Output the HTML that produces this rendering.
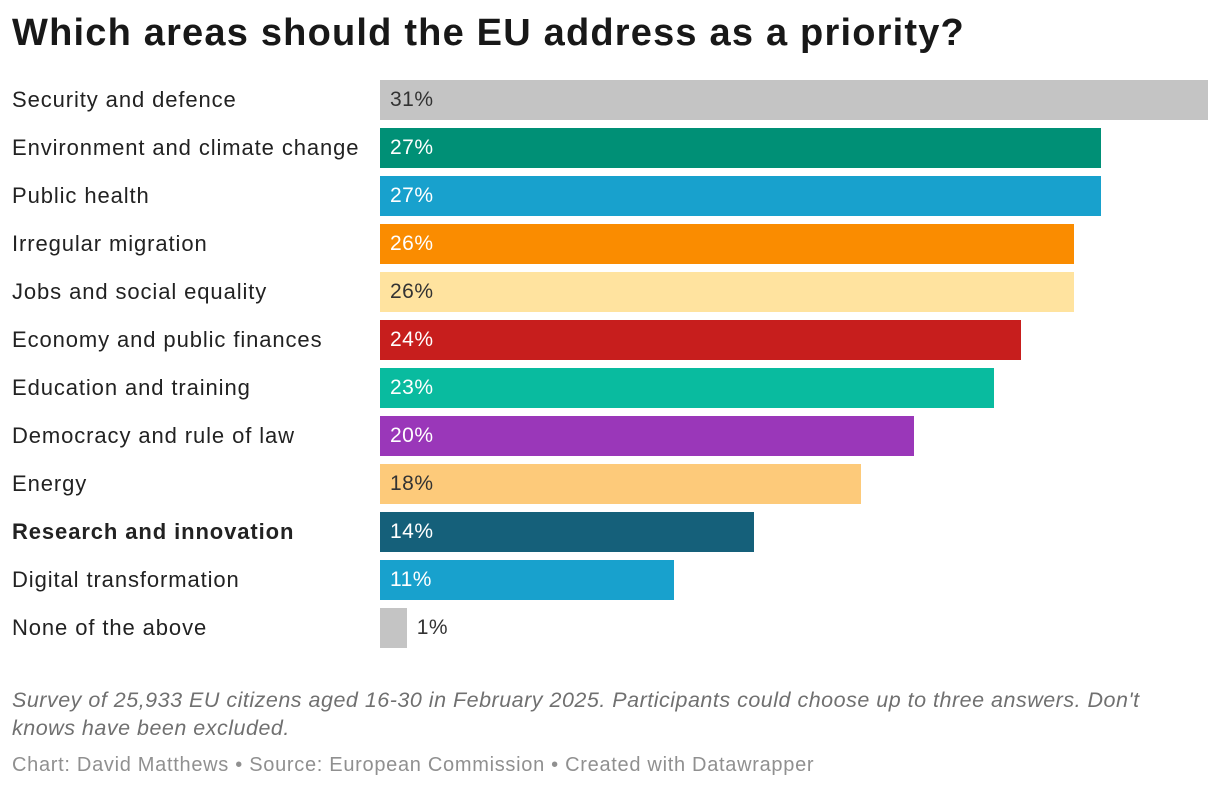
<!DOCTYPE html>
<html><head><meta charset="utf-8"><style>
body{margin:0;width:1220px;height:790px;background:#fff;font-family:"Liberation Sans",Arial,sans-serif;position:relative;overflow:hidden}
h1{position:absolute;left:12px;top:12px;margin:0;font-size:38px;font-weight:bold;color:#181818;letter-spacing:1.2px;white-space:nowrap}
.lab{position:absolute;left:12px;font-size:22px;color:#222;line-height:40px;letter-spacing:0.9px;white-space:nowrap}
.bar{position:absolute;height:40px}
.val{position:absolute;font-size:21px;line-height:40px;letter-spacing:0.5px}
.note{position:absolute;left:12px;top:686px;width:1170px;font-size:21.5px;font-style:italic;color:#707070;line-height:28px;letter-spacing:0.5px}
.cred{position:absolute;left:12px;top:754px;font-size:20px;color:#909090;letter-spacing:0.7px;white-space:nowrap}
</style></head><body>
<h1>Which areas should the EU address as a priority?</h1>
<div id="chart"></div>
<div class="note">Survey of 25,933 EU citizens aged 16-30 in February 2025. Participants could choose up to three answers. Don't knows have been excluded.</div>
<div class="cred">Chart: David Matthews • Source: European Commission • Created with Datawrapper</div>
<script>
const categories=["Security and defence","Environment and climate change","Public health","Irregular migration","Jobs and social equality","Economy and public finances","Education and training","Democracy and rule of law","Energy","Research and innovation","Digital transformation","None of the above"];
const values=[31,27,27,26,26,24,23,20,18,14,11,1];
const colors=["#c4c4c4","#009076","#18a1cd","#fa8c00","#ffe39f","#c71e1d","#09bb9f","#9a37b9","#fdca7a","#15607a","#18a1cd","#c4c4c4"];
const darkText=[true,false,false,false,true,false,false,false,true,false,false,true];
const x0=380,xMax=31,wMax=828,y0=80,step=48;
const xs=v=>v/xMax*wMax;
const c=document.getElementById('chart');
categories.forEach((cat,i)=>{
 const y=y0+i*step;
 const l=document.createElement('div');l.className='lab';l.style.top=y+'px';l.textContent=cat;
 if(cat==="Research and innovation")l.style.fontWeight='bold';
 
 
 c.appendChild(l);
 const b=document.createElement('div');b.className='bar';
 const w=xs(values[i]);
 b.style.left=x0+'px';b.style.top=y+'px';b.style.width=w+'px';b.style.background=colors[i];
 
 
 c.appendChild(b);
 const t=document.createElement('div');t.className='val';t.textContent=values[i]+'%';
 const inside=w>60;
 t.style.left=(inside?x0+10:x0+w+10)+'px';t.style.top=y+'px';
 t.style.color=(!inside||darkText[i])?'#333':'#fff';
 
 
 c.appendChild(t);
});
</script>
</body></html>
